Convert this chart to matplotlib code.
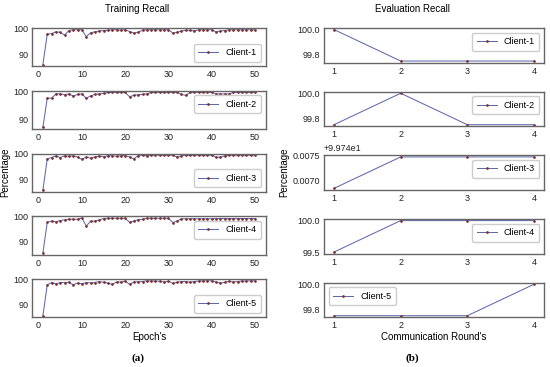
import matplotlib
matplotlib.use("Agg")
import matplotlib.pyplot as plt
from matplotlib.ticker import MultipleLocator
import numpy as np

plt.rcParams['font.family'] = ['Liberation Sans', 'DejaVu Sans']

epochs = list(range(1, 51))
train_client1 = [85.9, 97.8, 98.0, 98.7, 98.5, 97.4, 99.2, 99.5, 99.5, 99.5,
                 96.8, 98.3, 98.7, 99.0, 99.2, 99.3, 99.5, 99.5, 99.3, 99.5,
                 98.8, 98.2, 98.5, 99.3, 99.5, 99.5, 99.5, 99.5, 99.5, 99.5,
                 98.2, 98.5, 99.0, 99.3, 99.3, 99.0, 99.5, 99.5, 99.5, 99.5,
                 98.6, 99.0, 99.2, 99.5, 99.5, 99.5, 99.5, 99.5, 99.5, 99.5]
train_client2 = [87.2, 97.5, 97.5, 99.0, 99.0, 98.7, 99.0, 98.3, 98.8, 99.0,
                 97.5, 98.3, 98.8, 99.0, 99.2, 99.5, 99.5, 99.5, 99.5, 99.5,
                 98.0, 98.5, 98.7, 98.8, 99.0, 99.5, 99.5, 99.5, 99.5, 99.5,
                 99.5, 99.5, 98.8, 98.5, 99.5, 99.5, 99.5, 99.5, 99.5, 99.5,
                 99.0, 99.0, 99.0, 99.0, 99.5, 99.5, 99.5, 99.5, 99.5, 99.5]
train_client3 = [85.8, 98.0, 98.5, 99.2, 98.5, 99.2, 99.0, 99.2, 98.7, 97.8,
                 98.7, 98.3, 98.7, 99.1, 98.8, 99.2, 99.2, 99.0, 99.2, 99.3,
                 98.7, 98.0, 99.3, 99.4, 99.3, 99.4, 99.4, 99.4, 99.4, 99.4,
                 99.4, 98.7, 99.2, 99.4, 99.4, 99.4, 99.4, 99.4, 99.4, 99.4,
                 98.6, 98.6, 99.2, 99.4, 99.4, 99.4, 99.4, 99.4, 99.4, 99.4]
train_client4 = [85.7, 97.8, 98.3, 98.0, 98.5, 98.8, 99.0, 99.0, 99.0, 99.5,
                 96.3, 98.2, 98.3, 98.7, 99.3, 99.4, 99.4, 99.4, 99.4, 99.4,
                 97.8, 98.3, 98.8, 99.0, 99.4, 99.4, 99.4, 99.4, 99.4, 99.4,
                 97.7, 98.3, 99.2, 99.2, 99.2, 99.2, 99.2, 99.2, 99.2, 99.2,
                 99.3, 99.3, 99.3, 99.3, 99.3, 99.3, 99.3, 99.3, 99.3, 99.3]
train_client5 = [85.7, 97.8, 98.7, 98.2, 98.7, 98.7, 98.8, 97.8, 98.5, 98.2,
                 98.7, 98.6, 98.7, 99.1, 98.8, 98.5, 98.0, 98.9, 98.9, 99.3,
                 98.0, 98.9, 99.0, 99.1, 99.4, 99.3, 99.3, 99.2, 98.9, 99.2,
                 98.4, 98.8, 99.1, 99.1, 98.8, 99.1, 99.3, 99.4, 99.4, 99.4,
                 98.9, 98.5, 98.8, 99.2, 98.9, 99.1, 99.3, 99.3, 99.4, 99.4]

rounds = [1, 2, 3, 4]
eval_client1 = [100.0, 99.747, 99.747, 99.747]
eval_client2 = [99.747, 100.0, 99.747, 99.747]
eval_client3 = [99.74684, 99.74747, 99.74747, 99.74747]
eval_client4 = [99.5, 100.0, 100.0, 100.0]
eval_client5 = [99.747, 99.747, 99.747, 100.0]

labels = ['Client-1', 'Client-2', 'Client-3', 'Client-4', 'Client-5']
train = [train_client1, train_client2, train_client3, train_client4, train_client5]
evals = [eval_client1, eval_client2, eval_client3, eval_client4, eval_client5]
train_legend_loc = ['lower right', 'upper right', 'lower right', 'upper right', 'lower right']
eval_legend_loc = ['upper right', 'upper right', 'upper right', 'upper right', 'upper left']
eval_tick_step = [0.2, 0.2, 0.0005, 0.5, 0.2]

LINE = '#6169ad'
MARK = '#7a2a2a'
SPINE = '#666666'
FS = 6.5

fig = plt.figure(figsize=(5.5, 3.67), dpi=100)
top = 1 - 28 / 367
bottom = 1 - 317.3 / 367
gl = fig.add_gridspec(5, 1, left=32.3 / 550, right=265.7 / 550, top=top, bottom=bottom, hspace=0.64)
gr = fig.add_gridspec(5, 1, left=324 / 550, right=544 / 550, top=top, bottom=bottom, hspace=0.84)


def style(ax):
    for s in ax.spines.values():
        s.set_color(SPINE)
        s.set_linewidth(1.0)
    ax.tick_params(axis='both', length=0, labelsize=FS, colors='#222222', pad=3)


for i in range(5):
    ax = fig.add_subplot(gl[i, 0])
    ax.plot(epochs, train[i], color=LINE, lw=0.75, marker='.', markersize=1.8,
            markerfacecolor=MARK, markeredgecolor=MARK, label=labels[i])
    ax.yaxis.set_major_locator(MultipleLocator(10))
    ax.xaxis.set_major_locator(MultipleLocator(10))
    style(ax)
    ax.legend(loc=train_legend_loc[i], fontsize=FS, frameon=True, handlelength=2.2,
              borderpad=0.5, edgecolor='#cccccc', fancybox=True, framealpha=1)
    if i == 2:
        ax.set_ylabel('Percentage', fontsize=7, labelpad=2)
    if i == 4:
        ax.set_xlabel("Epoch's", fontsize=7, labelpad=1)

for i in range(5):
    ax = fig.add_subplot(gr[i, 0])
    ax.plot(rounds, evals[i], color=LINE, lw=0.75, marker='.', markersize=1.8,
            markerfacecolor=MARK, markeredgecolor=MARK, label=labels[i])
    ax.yaxis.set_major_locator(MultipleLocator(eval_tick_step[i]))
    ax.xaxis.set_major_locator(MultipleLocator(1))
    style(ax)
    if i == 2:
        ax.yaxis.get_offset_text().set_fontsize(FS)
    else:
        ax.yaxis.set_major_formatter(matplotlib.ticker.FormatStrFormatter('%.1f'))
    ax.legend(loc=eval_legend_loc[i], fontsize=FS, frameon=True, handlelength=2.2,
              borderpad=0.5, edgecolor='#cccccc', fancybox=True, framealpha=1)
    if i == 2:
        ax.set_ylabel('Percentage', fontsize=7, labelpad=2)
    if i == 4:
        ax.set_xlabel("Communication Round's", fontsize=7, labelpad=1)

fig.text(137.5 / 550, 1 - 9.3 / 367, 'Training Recall', ha='center', va='center', fontsize=7)
fig.text(412.5 / 550, 1 - 9.3 / 367, 'Evaluation Recall', ha='center', va='center', fontsize=7)
fig.text(137.5 / 550, 1 - 358.5 / 367, '(a)', ha='center', va='center', fontsize=8,
         family='Liberation Serif', weight='bold')
fig.text(412.5 / 550, 1 - 358.5 / 367, '(b)', ha='center', va='center', fontsize=8,
         family='Liberation Serif', weight='bold')

fig.savefig('out.png', dpi=100)
